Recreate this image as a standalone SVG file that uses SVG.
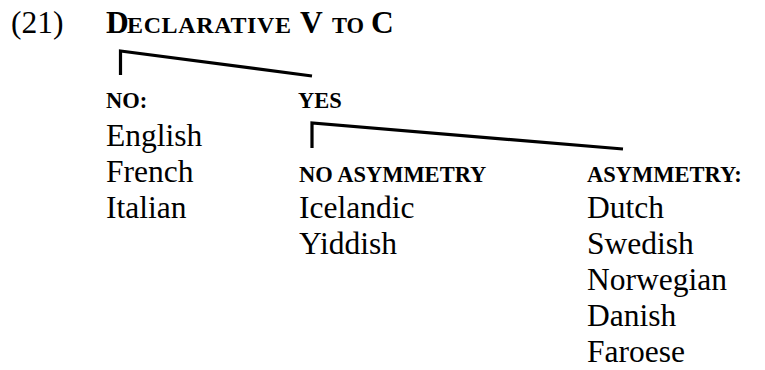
<svg xmlns="http://www.w3.org/2000/svg" width="765" height="370" viewBox="0 0 765 370">
<style>
text{font-family:"Liberation Serif","Times New Roman",serif;fill:#000}
.t{font-size:31.5px}
.sc{font-weight:bold;font-size:22.5px}
.tsc{font-weight:bold;font-size:24px}
.big{font-weight:bold;font-size:31.5px}
.br{fill:none;stroke:#000;stroke-width:3.2;stroke-linejoin:miter;stroke-linecap:butt}
</style>
<rect width="765" height="370" fill="#fff"/>
<g id="label"><text class="t" x="11" y="33">(21)</text></g>
<g id="title"><text y="33"><tspan class="big" x="106">D</tspan><tspan class="tsc" x="127" textLength="164" lengthAdjust="spacing">ECLARATIVE</tspan><tspan class="big" x="300">V</tspan><tspan class="tsc" x="332" style="font-size:22.5px">TO</tspan><tspan class="big" x="371">C</tspan></text></g>
<g id="connectors">
<polyline class="br" points="120.5,75 120.5,51 312,76"/>
<polyline class="br" points="312,148 312,123 623,149"/>
</g>
<g id="no">
<text class="sc" x="106" y="108">NO:</text>
<text class="t" x="106" y="146">English</text>
<text class="t" x="106" y="182">French</text>
<text class="t" x="106" y="218">Italian</text>
</g>
<g id="yes"><text class="sc" x="298" y="108">YES</text></g>
<g id="noasym">
<text class="sc" x="299" y="182">NO ASYMMETRY</text>
<text class="t" x="299" y="218">Icelandic</text>
<text class="t" x="299" y="254">Yiddish</text>
</g>
<g id="asym">
<text class="sc" x="587" y="182">ASYMMETRY:</text>
<text class="t" x="587" y="218">Dutch</text>
<text class="t" x="587" y="254">Swedish</text>
<text class="t" x="587" y="290">Norwegian</text>
<text class="t" x="587" y="326">Danish</text>
<text class="t" x="587" y="362">Faroese</text>
</g>
</svg>
